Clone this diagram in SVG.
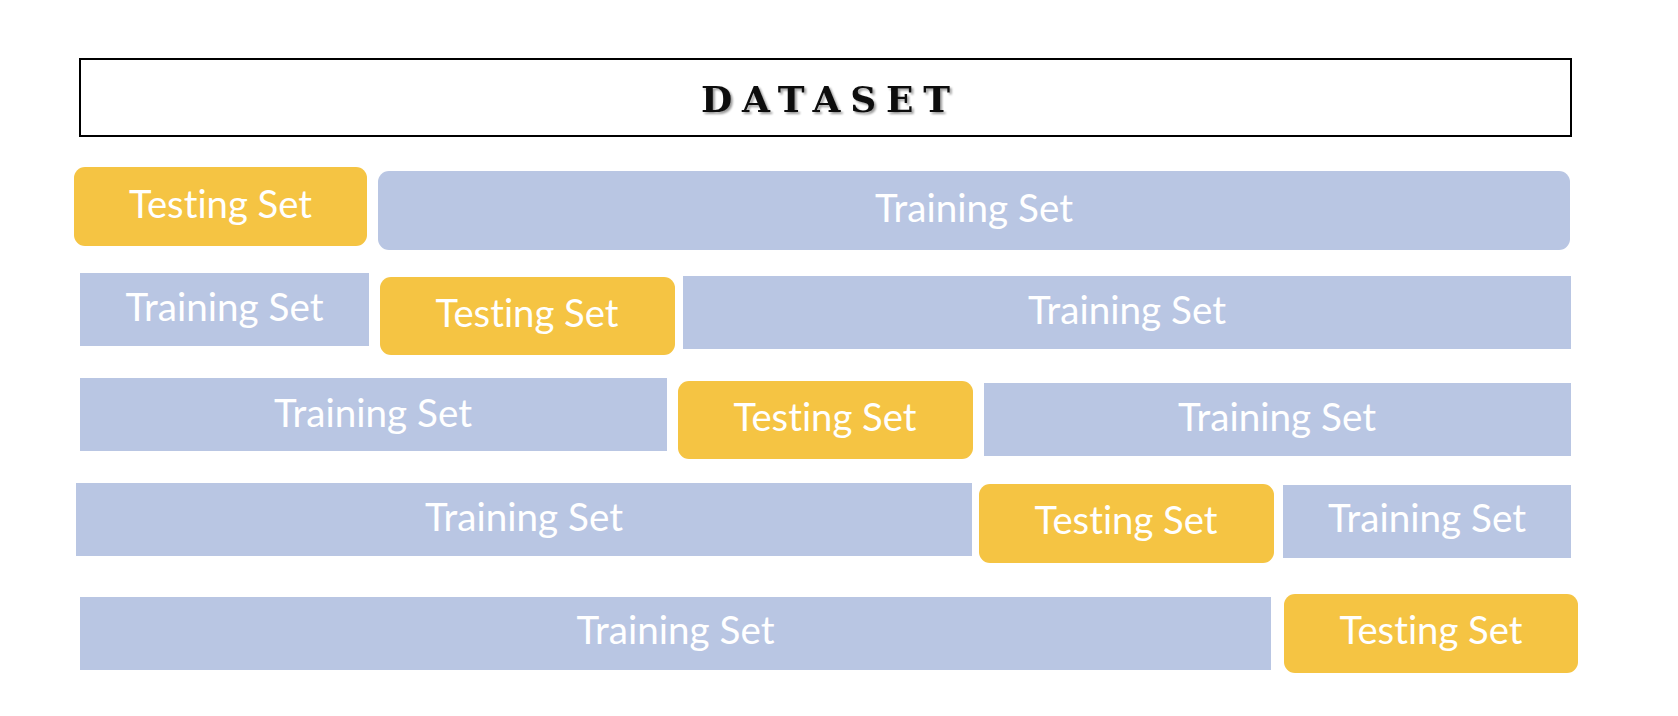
<svg xmlns="http://www.w3.org/2000/svg" width="1678" height="716" viewBox="0 0 1678 716">
<style>
.test{fill:#F5C443}
.train{fill:#B9C6E3}
.lbl{font-family:Lato,"Open Sans","Liberation Sans",sans-serif;font-size:38px;fill:#FFFFFF;text-anchor:middle;font-variant-ligatures:none}
.title{font-family:"DejaVu Serif","Liberation Serif",serif;font-weight:bold;font-size:36px;fill:#111111}
</style>
<defs>
<filter id="sh" x="-10%" y="-30%" width="120%" height="160%">
<feGaussianBlur in="SourceAlpha" stdDeviation="1.2"/>
<feOffset dx="1.5" dy="1.5" result="b"/>
<feComponentTransfer><feFuncA type="linear" slope="0.4"/></feComponentTransfer>
<feMerge><feMergeNode/><feMergeNode in="SourceGraphic"/></feMerge>
</filter>
</defs>
<rect width="1678" height="716" fill="#FFFFFF"/>
<g id="dataset">
<rect x="80" y="59" width="1491" height="77" fill="#FFFFFF" stroke="#000000" stroke-width="2"/>
<text class="title" x="701" y="112" textLength="249" lengthAdjust="spacing" filter="url(#sh)">DATASET</text>
</g>
<g id="r1-test"><rect class="test" x="74" y="167" width="293" height="79" rx="11"/><text class="lbl" x="220.5" y="218.3" textLength="183" lengthAdjust="spacingAndGlyphs">Testing Set</text></g>
<g id="r1-train"><rect class="train" x="378" y="171" width="1192" height="79" rx="11"/><text class="lbl" x="974" y="221.7" textLength="198" lengthAdjust="spacingAndGlyphs">Training Set</text></g>
<g id="r2-train-a"><rect class="train" x="80" y="273" width="289" height="73"/><text class="lbl" x="224.5" y="321" textLength="198" lengthAdjust="spacingAndGlyphs">Training Set</text></g>
<g id="r2-test"><rect class="test" x="380" y="277" width="295" height="78" rx="11"/><text class="lbl" x="527" y="327.3" textLength="183" lengthAdjust="spacingAndGlyphs">Testing Set</text></g>
<g id="r2-train-b"><rect class="train" x="683" y="276" width="888" height="73"/><text class="lbl" x="1127" y="324" textLength="198" lengthAdjust="spacingAndGlyphs">Training Set</text></g>
<g id="r3-train-a"><rect class="train" x="80" y="378" width="587" height="73"/><text class="lbl" x="373" y="426.7" textLength="198" lengthAdjust="spacingAndGlyphs">Training Set</text></g>
<g id="r3-test"><rect class="test" x="678" y="381" width="295" height="78" rx="11"/><text class="lbl" x="825" y="430.7" textLength="183" lengthAdjust="spacingAndGlyphs">Testing Set</text></g>
<g id="r3-train-b"><rect class="train" x="984" y="383" width="587" height="73"/><text class="lbl" x="1277" y="430.7" textLength="198" lengthAdjust="spacingAndGlyphs">Training Set</text></g>
<g id="r4-train-a"><rect class="train" x="76" y="483" width="896" height="73"/><text class="lbl" x="524" y="531" textLength="198" lengthAdjust="spacingAndGlyphs">Training Set</text></g>
<g id="r4-test"><rect class="test" x="979" y="484" width="295" height="79" rx="11"/><text class="lbl" x="1126" y="534.3" textLength="183" lengthAdjust="spacingAndGlyphs">Testing Set</text></g>
<g id="r4-train-b"><rect class="train" x="1283" y="485" width="288" height="73"/><text class="lbl" x="1427" y="532.3" textLength="198" lengthAdjust="spacingAndGlyphs">Training Set</text></g>
<g id="r5-train"><rect class="train" x="80" y="597" width="1191" height="73"/><text class="lbl" x="675.5" y="644.3" textLength="198" lengthAdjust="spacingAndGlyphs">Training Set</text></g>
<g id="r5-test"><rect class="test" x="1284" y="594" width="294" height="79" rx="11"/><text class="lbl" x="1431" y="644.3" textLength="183" lengthAdjust="spacingAndGlyphs">Testing Set</text></g>
<g id="connectors"/>
</svg>
